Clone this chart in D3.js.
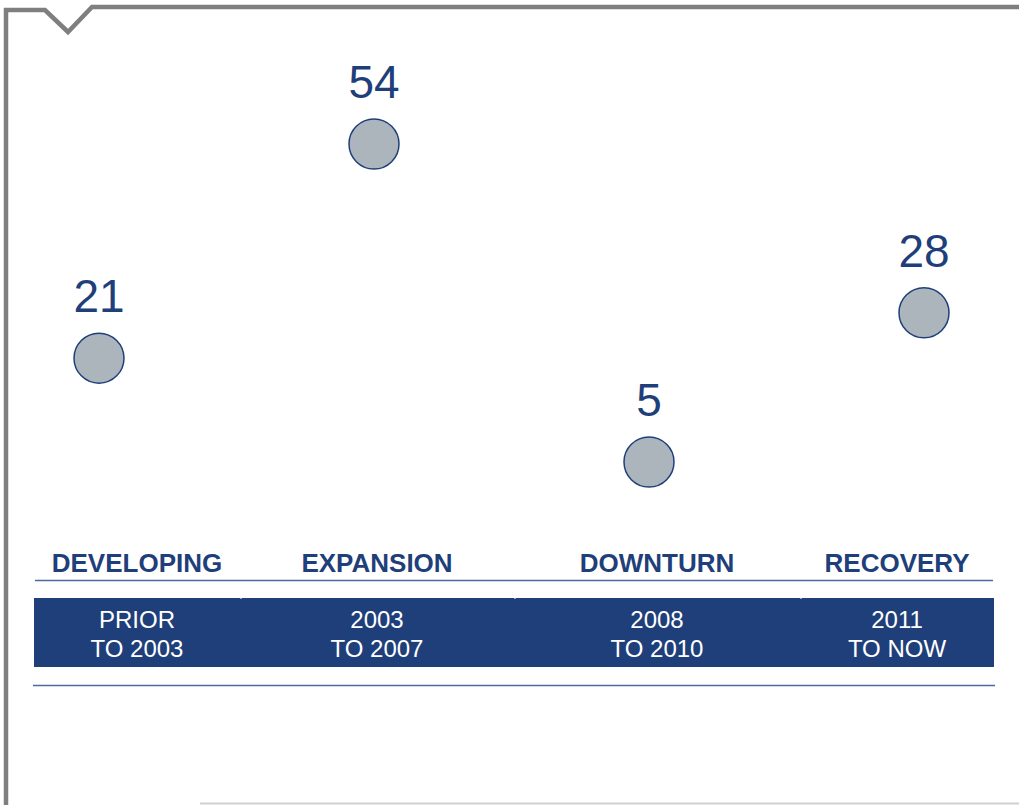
<!DOCTYPE html>
<meta charset="utf-8">
<style>
body { margin: 0; background: #fff; }
svg { display: block; font-family: "Liberation Sans", Arial, sans-serif; }
.frame { fill: none; stroke: #7f7f7f; stroke-width: 4.5; stroke-linejoin: miter; }
.dot { fill: #acb5bb; stroke: #1f3f7a; stroke-width: 1.5; }
.val { fill: #1f3f7a; font-size: 46px; text-anchor: middle; }
.phase { fill: #1f3f7a; font-size: 26px; font-weight: bold; text-anchor: middle; }
.period { fill: #fff; font-size: 24px; text-anchor: middle; }
.rule { stroke: #4d6a9c; stroke-width: 1.5; }
</style>
<svg width="1019" height="805"></svg>
<script src="https://cdn.jsdelivr.net/npm/d3@7"></script>
<script>

var phases = ["DEVELOPING", "EXPANSION", "DOWNTURN", "RECOVERY"];
var periodTop = ["PRIOR", "2003", "2008", "2011"];
var periodBottom = ["TO 2003", "TO 2007", "TO 2010", "TO NOW"];
var values = [21, 54, 5, 28];

var svg = d3.select("svg");

// outer frame with the little notch at top left
svg.append("path")
    .attr("class", "frame")
    .attr("d", "M6,805 L6,10 L45,10 L68,32 L92,7 L1019,7");
svg.append("line")
    .attr("x1", 200).attr("x2", 1019).attr("y1", 803.5).attr("y2", 803.5)
    .attr("stroke", "#d0d0d0").attr("stroke-width", 2);

// circles
var x = d3.scalePoint().domain(phases).range([99, 924]);
var y = d3.scaleLinear().domain([5, 54]).range([462, 144]);

var pts = svg.append("g").selectAll("g")
    .data(phases)
    .enter().append("g");

pts.append("circle")
    .attr("class", "dot")
    .attr("cx", function(d) { return x(d); })
    .attr("cy", function(d, i) { return y(values[i]); })
    .attr("r", 25);

pts.append("text")
    .attr("class", "val")
    .attr("x", function(d) { return x(d); })
    .attr("y", function(d, i) { return y(values[i]) - 46; })
    .text(function(d, i) { return values[i]; });

// period band - columns split at the small marks on the bar
var edges = [34, 240, 514, 800, 994];
function mid(i) { return (edges[i] + edges[i + 1]) / 2; }

svg.selectAll(".phase")
    .data(phases)
    .enter().append("text")
    .attr("class", "phase")
    .attr("x", function(d, i) { return mid(i); })
    .attr("y", 572)
    .text(function(d) { return d; });

svg.append("line").attr("class", "rule")
    .attr("x1", 35).attr("x2", 993).attr("y1", 580.5).attr("y2", 580.5);

svg.append("rect")
    .attr("x", 34).attr("y", 598)
    .attr("width", 960).attr("height", 69)
    .attr("fill", "#1f3f7a");

svg.selectAll(".tick-mark")
    .data(edges.slice(1, 4))
    .enter().append("line")
    .attr("x1", function(d) { return d; }).attr("x2", function(d) { return d + 2; })
    .attr("y1", 598.5).attr("y2", 598.5)
    .attr("stroke", "#8ea2c4").attr("stroke-width", 1);

svg.selectAll(".p1")
    .data(periodTop)
    .enter().append("text")
    .attr("class", "period")
    .attr("x", function(d, i) { return mid(i); })
    .attr("y", 628)
    .text(function(d) { return d; });

svg.selectAll(".p2")
    .data(periodBottom)
    .enter().append("text")
    .attr("class", "period")
    .attr("x", function(d, i) { return mid(i); })
    .attr("y", 657)
    .text(function(d) { return d; });

svg.append("line").attr("class", "rule")
    .attr("x1", 33).attr("x2", 995).attr("y1", 685.5).attr("y2", 685.5);

</script>
